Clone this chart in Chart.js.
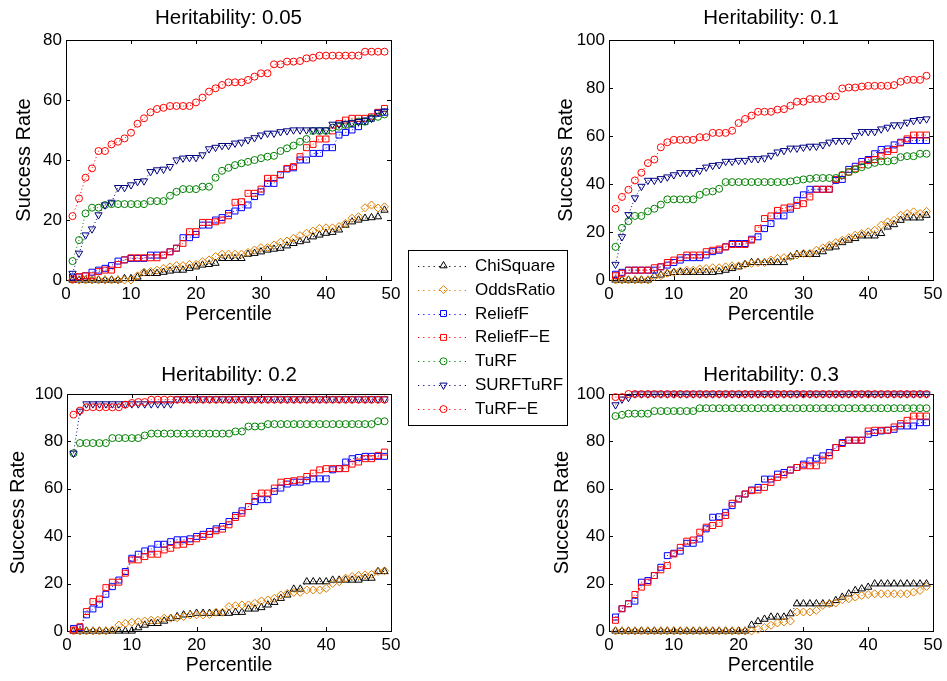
<!DOCTYPE html>
<html>
<head>
<meta charset="utf-8">
<script src="https://cdn.jsdelivr.net/npm/chart.js@4.4.0/dist/chart.umd.min.js"></script>
<style>
  body { margin: 0; background: #fff; width: 947px; height: 681px; position: relative; overflow: hidden; font-family: "Liberation Sans", Arial, sans-serif; }
  canvas.plot { position: absolute; }
  #legend { position: absolute; left: 408px; top: 250px; width: 160px; height: 176px; box-sizing: border-box; border: 1px solid #000; background: #fff; z-index: 5; }
  #legend canvas { position: absolute; left: 0; top: 0; }
  #legend span { position: absolute; left: 66px; height: 24px; line-height: 24px; font-size: 17px; color: #000; white-space: nowrap; }
</style>
</head>
<body>
<canvas class="plot" id="h005" width="420" height="330" style="left:0;top:0"></canvas>
<canvas class="plot" id="h01" width="407" height="330" style="left:540px;top:0"></canvas>
<canvas class="plot" id="h02" width="420" height="331" style="left:0;top:350px"></canvas>
<canvas class="plot" id="h03" width="407" height="331" style="left:540px;top:350px"></canvas>
<div id="legend"><canvas id="legendIcons" width="158" height="174"></canvas></div>

<script>
const percentile = [1,2,3,4,5,6,7,8,9,10,11,12,13,14,15,16,17,18,19,20,21,22,23,24,25,26,27,28,29,30,31,32,33,34,35,36,37,38,39,40,41,42,43,44,45,46,47,48,49];
const seriesNames = ['ChiSquare', 'OddsRatio', 'ReliefF', 'ReliefF\u2212E', 'TuRF', 'SURFTuRF', 'TuRF\u2212E'];

// Heritability 0.05
const h005ChiSquare = [0,0,0,0,0,0,0,0,0.5,0.5, 1,2.2,2.2,2.2,2.6,3,3.3,3.3,3.9,4.4, 5,5.2,5.6,7.2,7.2,7.2,7.2,8.6,8.9,9.4, 10,10.3,10.6,11.4,12.2,12.8,13.3,14.4,15,15.6, 15.9,16.7,18.3,19.4,20,20.6,20.8,21.1,23.3];
const h005OddsRatio = [0,0,0,0,0,0,0,0,0,0, 1.4,2.6,2.8,3.3,3.9,4.4,4.8,4.8,5.2,5.2, 6.1,6.7,7.8,8.6,8.6,8.6,8.6,9.2,10,10.8, 10.8,11.7,12.6,13,13.9,14.8,15.6,16.3,17.2,17.4, 17.4,17.8,18.9,20.6,21.1,24.1,25,24,24.4];
const h005ReliefF = [1,1,1.4,2.6,3.3,3.9,4.8,6.3,6.7,7.2, 7.2,7.2,8.3,8.3,8.3,9.4,10.6,14.1,14.1,15.2, 18.3,18.3,20,20.8,22.2,23,24.1,25,27.8,29.4, 32.2,32.2,35,37,37.4,40,40,42.2,42.2,44.1, 44.1,48.3,49.2,50,51.1,52.8,53.9,55.6,55.9];
const h005ReliefFE = [0.3,1.1,1.4,1.4,2.8,3.3,3.3,5.2,6.7,7.4, 7.4,7.4,7.4,7.4,8.3,9.4,10.6,12.2,16.1,16.1, 19.2,19.2,19.4,20,21.4,25.9,26.1,28.9,28.9,30.3, 33.9,33.9,35.2,37.2,37.8,41.1,44.1,45.2,47,47, 49.7,52.2,53.3,53.9,53.9,53.9,54.4,55.9,57.2];
const h005TuRF = [6.3,13.3,22.2,24.1,24.1,25,25.3,25.3,25.3,25.3, 25.3,25.3,26.3,26.3,26.3,28.1,29.4,30.3,30.3,30.3, 31.1,31.1,34.1,36.4,37.4,38.3,38.9,39.4,40,40.6, 41.1,41.4,43,43.9,44.8,46.1,47,49.7,49.7,49.7, 50.8,51.1,51.7,52.2,52.8,52.8,53.9,54.4,55.2];
const h005SURFTuRF = [2.2,8.9,15,17,21.7,25,25.9,30.8,30.8,31.7, 32.8,33,36.1,36.7,36.9,37.8,40,40.6,40.8,40.8, 41.7,43.7,44.2,44.8,44.8,45.6,45.9,46.7,47.4,48.3, 48.9,48.9,49.4,49.7,50,50,50,50,50,50, 51.9,51.9,52.2,52.4,52.8,53.3,53.9,55.9,56.3];
const h005TuRFE = [21.3,27.2,34.1,37.2,43,43,45.2,46.1,47.2,49.1, 52.1,53.9,55.9,57,57.4,58,58,58,58,59.2, 60.8,62.8,63.9,65,65.9,65.9,65.9,66.7,67.8,68.9, 68.9,71.9,71.9,72.8,72.8,73,73.9,74.1,74.8,74.8, 74.8,74.8,74.8,74.8,74.8,76.1,76.1,76.1,76.1];

// Heritability 0.1
const h01ChiSquare = [0,0,0,0,0,0,1.8,2.1,2.8,3.2, 3.2,3.2,3.2,3.2,3.2,3.2,3.5,4.1,4.8,5.5, 6.5,7.3,7.3,7.3,7.3,7.3,7.3,9.7,10.7,10.7, 10.7,10.7,11.8,13.4,13.8,15.6,16.6,17.3,18.4,18.4, 18.4,19.4,22.1,23.1,24.9,25.9,25.9,25.9,27];
const h01OddsRatio = [0,0,0,0,0,0,1.4,1.8,2.8,3.2, 3.7,4.1,4.1,4.6,4.8,5.1,5.1,5.5,5.9,5.9, 6.5,6.9,7.3,7.3,8.3,9,9.3,9.7,10.4,11.1, 11.1,12.4,13.4,14.5,15.6,16.6,17.6,18.7,19.4,20.1, 20.7,22.8,24.2,24.9,27,27.7,28.4,27.7,28.6];
const h01ReliefF = [2.4,3.2,4.1,4.1,4.1,4.1,4.1,5.5,6.2,7.3, 8.3,9.3,9.3,9.3,10.4,11.8,12.4,13.8,15.2,15.2, 15.2,17,18,21.4,23.5,26.7,26.7,29.5,33.2,35.5, 37.8,37.8,37.8,37.8,41.5,41.9,46.1,47.4,49.4,50.2, 52.6,54.4,54.6,56.3,57.4,58.1,58.1,58.1,58.1];
const h01ReliefFE = [1.8,2.8,4.1,4.1,4.1,4.1,5.1,5.5,7.3,8.3, 9.3,10.4,10.4,10.4,11.8,12.4,12.9,13.8,14.8,14.8, 14.8,16.6,21.4,25.6,26.7,29,30,30.4,31.1,31.8, 34.6,37.8,37.8,37.8,41.9,43.6,45,46.3,48,49.8, 50.2,51.6,53.5,54.4,57.1,58.8,60.4,60.4,60.4];
const h01TuRF = [13.8,21.7,24.5,26.7,26.7,28.6,29.7,31.4,33.6,33.6, 33.6,33.6,33.6,35.5,36.7,36.9,38,40.8,40.8,40.8, 40.8,40.8,40.8,40.8,40.8,40.8,40.8,41.1,41.5,41.9, 42.2,42.5,42.5,42.5,42.5,43.8,45,46.1,47,48, 48.8,49.4,49.4,49.8,51.2,51.6,51.6,52.6,52.6];
const h01SURFTuRF = [6.5,18,27.2,34.2,39,41.5,41.5,42.2,42.9,43.8, 44.7,44.7,44.7,45.6,47,47.7,48,49.4,49.4,49.8, 49.8,50.5,50.5,50.8,51.9,53.3,53.9,54.9,54.9,55.3, 55.7,55.7,56.3,57.4,58.1,58.1,58.1,60.2,61.8,61.8, 61.8,62.9,63.6,64.6,64.6,65.7,66.4,66.8,67.1];
const h01TuRFE = [29.7,34.6,37.6,41.5,44.7,48.7,50.2,55.3,57.4,58.4, 58.4,58.4,58.4,59.5,59.5,61.3,61.3,61.3,62.2,65.4, 67.1,68.5,70.1,70.1,70.1,71,71.2,72.6,74.3,74.3, 75.4,75.4,75.4,76.5,76.5,79.8,80.2,80.2,80.6,80.9, 80.9,80.9,80.9,81.2,82.6,83.4,83.4,83.4,85.1];

// Heritability 0.2
const h02ChiSquare = [0,0,0,0,0,0,0,0,0,0, 1.4,2.5,3.2,3.2,4.2,5.4,6.1,6.8,7,7.5, 7.5,7.5,7.5,7.5,7.5,7.9,7.9,9.3,9.3,9.9, 11,12.1,13.8,15.2,17.7,17.7,20.8,20.8,20.8,20.8, 21.5,21.5,21.5,21.5,21.5,22.3,22.3,25.1,25.1];
const h02OddsRatio = [0,0,0,0,0,0,0.4,2.5,3.2,3.7, 3.9,4.2,4.6,4.6,5.4,5.4,5.6,6.1,6.8,6.8, 6.8,7,7.9,7.9,10.3,10.7,11,11,11.7,12.7, 13.1,13.8,15.2,15.9,16.3,16.3,17.3,17.3,17.3,18, 20.1,20.8,22.3,23,23.4,23.7,23.9,25.1,25.4];
const h02ReliefF = [1.1,1.4,6.8,9.3,11.3,15.5,18.7,21.5,25.1,30.7, 32.4,33.8,34.6,36.6,36.6,37.7,38.5,38.5,38.9,39.9, 40.8,42,43.1,44.1,46.2,48.7,50.7,52.5,54.6,55.4, 55.4,58.9,60.3,62,62.8,62.8,63.4,64.2,64.2,64.2, 68,68.5,71.3,72.7,73.2,73.7,73.7,73.7,73.7];
const h02ReliefFE = [0.4,1.8,8.2,12.4,13.5,18.3,20.6,20.6,24.4,30, 30,31.4,32.4,32.4,34.2,34.9,36.3,36.6,37.7,38.9, 39.9,40.8,42.3,43,44.8,47.9,49.7,52.5,56.8,58.2, 58.2,60.3,62.8,63.1,63.4,63.8,65.2,66.6,68,68.5, 68.5,68.5,68.5,70.4,71.3,72.7,72.7,74.1,75.5];
const h02TuRF = [75,79.3,79.3,79.3,79.3,79.3,81.4,81.4,81.4,81.4, 81.4,82.5,83.3,83.3,83.3,83.3,83.3,83.3,83.3,83.3, 83.3,83.3,83.3,83.3,83.3,84.2,84.2,86.3,86.3,86.3, 87.3,87.3,87.3,87.3,87.3,87.3,87.3,87.3,87.3,87.3, 87.3,87.3,87.3,87.3,87.3,87.3,87.3,88.5,88.5];
const h02SURFTuRF = [75,92.7,95.8,95.8,95.8,95.8,95.8,95.8,95.8,95.8, 95.8,95.8,95.8,95.8,95.8,95.8,97.9,97.9,97.9,97.9, 97.9,97.9,97.9,97.9,97.9,97.9,97.9,97.9,97.9,97.9, 97.9,97.9,97.9,97.9,97.9,97.9,97.9,97.9,97.9,97.9, 97.9,97.9,97.9,97.9,97.9,97.9,97.9,97.9,97.9];
const h02TuRFE = [91.3,93,94.4,94.4,94.4,94.4,94.4,94.4,95.5,96.2, 96.6,96.6,97.6,97.6,97.6,97.6,97.6,97.6,97.6,97.6, 97.6,97.6,97.6,97.6,97.6,97.6,97.6,97.6,97.6,97.6, 97.6,97.6,97.6,97.6,97.6,97.6,97.6,97.6,97.6,97.6, 97.6,97.6,97.6,97.6,97.6,97.6,97.6,97.6,97.6];

// Heritability 0.3
const h03ChiSquare = [0,0,0,0,0,0,0,0,0,0, 0,0,0,0,0,0,0,0,0,0, 0,2.5,4,5,5.9,5.9,5.9,7.3,11.5,11.5, 11.5,11.5,11.5,11.5,12.9,14.3,15.7,17.1,17.8,18.5, 19.9,19.9,19.9,19.9,19.9,19.9,19.9,19.9,19.9];
const h03OddsRatio = [0,0,0,0,0,0,0,0,0,0, 0,0,0,0,0,0,0,0,0,0, 0,0,0.7,1.5,2.4,3.4,3.8,4.2,8,8, 8,8.7,10.8,11.5,11.8,13.2,13.6,14.3,15,15.4, 15.7,15.7,15.7,15.7,15.7,15.7,16.4,17.1,18.8];
const h03ReliefF = [5.9,9.4,11.5,12.6,20.6,21.3,23.4,26.9,31.8,32.8, 33.7,37,37,38.8,43.1,48,48.2,50.1,52.9,55.7, 57.8,59.5,60.6,64.1,64.1,66.2,66.9,67.9,69,70.4, 71.8,72.9,73.9,75.3,77.4,79.5,80.5,80.5,80.5,83, 83.7,84.4,84.7,85.1,86.5,86.5,86.5,87.9,87.9];
const h03ReliefFE = [4.5,9.4,11.5,15.4,18.5,20.6,23.4,25.8,27.6,32.5, 35.3,37.9,38.4,41.7,43.8,44.5,45.4,48.7,53.9,55.7, 57.8,59.2,59.5,60.6,62.7,64.8,65.9,67.9,69,69.7, 69.7,69.7,72.1,73.9,77.4,79.1,80.5,80.5,80.5,84.4, 84.7,84.7,84.7,86.1,87.5,88.9,90.7,90.7,90.7];
const h03TuRF = [90.7,91.2,91.7,91.7,91.7,91.7,92.8,92.8,92.8,92.8, 92.8,92.8,92.8,94,94,94,94,94,94,94, 94,94,94,94,94,94,94,94,94,94, 94,94,94,94,94,94,94,94,94,94, 94,94,94,94,94,94,94,94,94];
const h03SURFTuRF = [95.4,97.8,98.5,100,100,100,100,100,100,100, 100,100,100,100,100,100,100,100,100,100, 100,100,100,100,100,100,100,100,100,100, 100,100,100,100,100,100,100,100,100,100, 100,100,100,100,100,100,100,100,100];
const h03TuRFE = [98.7,98.7,100,100,100,100,100,100,100,100, 100,100,100,100,100,100,100,100,100,100, 100,100,100,100,100,100,100,100,100,100, 100,100,100,100,100,100,100,100,100,100, 100,100,100,100,100,100,100,100,100];

// marker styles, same order as seriesNames
const colors = ['#000000', '#dc7d00', '#0000ff', '#ff0000', '#008000', '#000080', '#ff0000'];
const shapes = ['triangle', 'rectRot', 'rect', 'rect', 'circle', 'triangle', 'circle'];
const rotations = [0, 0, 0, 0, 0, 180, 0];
const radii = [4.2, 4, 4.2, 4.2, 3.5, 4.2, 3.5];

const fontFamily = '"Liberation Sans", Arial, sans-serif';

// box + inward ticks on all four sides, like matlab axes
const matlabAxes = {
  id: 'matlabAxes',
  beforeDatasetsDraw(chart) {
    const {ctx, chartArea: a, scales: {x, y}} = chart;
    const tl = 4;
    ctx.save();
    ctx.strokeStyle = '#000';
    ctx.lineWidth = 1;
    ctx.strokeRect(a.left + 0.5, a.top + 0.5, a.right - a.left, a.bottom - a.top);
    ctx.beginPath();
    x.ticks.forEach(t => {
      const px = Math.round(x.getPixelForValue(t.value)) + 0.5;
      ctx.moveTo(px, a.bottom); ctx.lineTo(px, a.bottom - tl);
      ctx.moveTo(px, a.top); ctx.lineTo(px, a.top + tl);
    });
    y.ticks.forEach(t => {
      const py = Math.round(y.getPixelForValue(t.value)) + 0.5;
      ctx.moveTo(a.left, py); ctx.lineTo(a.left + tl, py);
      ctx.moveTo(a.right, py); ctx.lineTo(a.right - tl, py);
    });
    ctx.stroke();
    ctx.restore();
  }
};

function makeChart(id, title, yMax, series, box) {
  return new Chart(document.getElementById(id), {
    type: 'line',
    data: {
      datasets: seriesNames.map((name, i) => ({
        label: name,
        data: percentile.map((p, j) => ({x: p, y: series[i][j]})),
        borderColor: colors[i],
        borderWidth: 1,
        borderDash: [1, 2.5],
        pointStyle: shapes[i],
        pointRotation: rotations[i],
        pointRadius: radii[i],
        pointBorderColor: colors[i],
        pointBackgroundColor: 'rgba(0,0,0,0)',
        pointBorderWidth: 1,
        order: seriesNames.length - i,
        clip: false
      }))
    },
    options: {
      responsive: false,
      animation: false,
      events: [],
      layout: {padding: {left: 0, right: box.padRight, top: 0, bottom: 0}},
      plugins: {
        legend: {display: false},
        tooltip: {enabled: false},
        title: {
          display: true, text: title, fullSize: false, color: '#000',
          font: {family: fontFamily, size: 20.5, weight: 'normal'},
          padding: box.titlePad
        }
      },
      scales: {
        x: {
          type: 'linear', min: 0, max: 50,
          ticks: {stepSize: 10, color: '#000', font: {family: fontFamily, size: 17}, padding: 4, maxRotation: 0},
          grid: {display: false, drawTicks: false},
          border: {display: false},
          title: {display: true, text: 'Percentile', color: '#000', font: {family: fontFamily, size: 19.5}, padding: {top: 0, bottom: 3.3}},
          afterFit(s) { s.height = 50; }
        },
        y: {
          min: 0, max: yMax,
          ticks: {stepSize: 20, color: '#000', font: {family: fontFamily, size: 17}, padding: 4},
          grid: {display: false, drawTicks: false},
          border: {display: false},
          title: {display: true, text: 'Success Rate', color: '#000', font: {family: fontFamily, size: 20}, padding: {top: box.yTitlePad, bottom: 0}},
          afterFit(s) { s.width = box.yWidth; }
        }
      }
    },
    plugins: [matlabAxes]
  });
}

makeChart('h005', 'Heritability: 0.05', 80,
  [h005ChiSquare, h005OddsRatio, h005ReliefF, h005ReliefFE, h005TuRF, h005SURFTuRF, h005TuRFE],
  {padRight: 29, yWidth: 66, yTitlePad: 12.5, titlePad: {top: 6.2, bottom: 9.2}});
makeChart('h01', 'Heritability: 0.1', 100,
  [h01ChiSquare, h01OddsRatio, h01ReliefF, h01ReliefFE, h01TuRF, h01SURFTuRF, h01TuRFE],
  {padRight: 14, yWidth: 69, yTitlePad: 14, titlePad: {top: 6.2, bottom: 9.2}});
makeChart('h02', 'Heritability: 0.2', 100,
  [h02ChiSquare, h02OddsRatio, h02ReliefF, h02ReliefFE, h02TuRF, h02SURFTuRF, h02TuRFE],
  {padRight: 29, yWidth: 67, yTitlePad: 6, titlePad: {top: 12.7, bottom: 6.7}});
makeChart('h03', 'Heritability: 0.3', 100,
  [h03ChiSquare, h03OddsRatio, h03ReliefF, h03ReliefFE, h03TuRF, h03SURFTuRF, h03TuRFE],
  {padRight: 14, yWidth: 69, yTitlePad: 10, titlePad: {top: 12.7, bottom: 6.7}});

// legend box in the middle
const legendEl = document.getElementById('legend');
const lg = document.getElementById('legendIcons').getContext('2d');

function drawMarker(c, shape, rot, r, x, y) {
  c.beginPath();
  if (shape === 'circle') {
    c.arc(x, y, r, 0, Math.PI * 2);
  } else if (shape === 'rect') {
    const s = r * Math.SQRT1_2;
    c.rect(x - s, y - s, 2 * s, 2 * s);
  } else if (shape === 'rectRot') {
    c.moveTo(x - r, y); c.lineTo(x, y - r); c.lineTo(x + r, y); c.lineTo(x, y + r); c.closePath();
  } else if (shape === 'triangle') {
    const d = rot === 180 ? -1 : 1;
    const h = r * Math.sin(Math.PI / 3);
    c.moveTo(x, y - d * r);
    c.lineTo(x + h, y + d * r / 2);
    c.lineTo(x - h, y + d * r / 2);
    c.closePath();
  }
  c.stroke();
}

seriesNames.forEach((name, i) => {
  const cy = 14.7 + i * 23.9;
  lg.save();
  lg.strokeStyle = colors[i];
  lg.lineWidth = 1;
  lg.setLineDash([1.2, 4]);
  lg.beginPath();
  lg.moveTo(9, Math.round(cy) + 0.5);
  lg.lineTo(57, Math.round(cy) + 0.5);
  lg.stroke();
  lg.setLineDash([]);
  drawMarker(lg, shapes[i], rotations[i], radii[i], 34.5, cy);
  lg.restore();

  const span = document.createElement('span');
  span.textContent = name;
  span.style.top = (cy - 12) + 'px';
  legendEl.appendChild(span);
});
</script>
</body>
</html>
